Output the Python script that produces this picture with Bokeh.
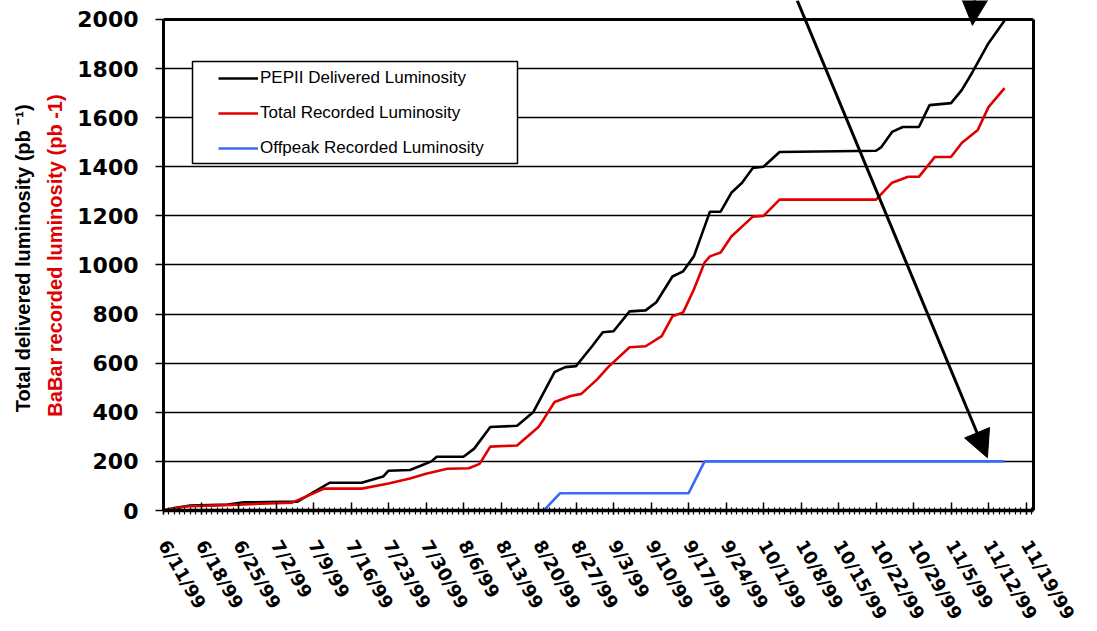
import numpy as np
from bokeh.plotting import figure
from bokeh.models import (FixedTicker, Range1d, Legend, LegendItem, Arrow,
                          NormalHead, BoxAnnotation, Title, Span, LinearAxis)
from bokeh.embed import file_html
from bokeh.resources import INLINE

# Days counted from 6/11/99
week_days = list(range(0, 162, 7))
week_labels = ["6/11/99", "6/18/99", "6/25/99", "7/2/99", "7/9/99", "7/16/99",
               "7/23/99", "7/30/99", "8/6/99", "8/13/99", "8/20/99", "8/27/99",
               "9/3/99", "9/10/99", "9/17/99", "9/24/99", "10/1/99", "10/8/99",
               "10/15/99", "10/22/99", "10/29/99", "11/5/99", "11/12/99", "11/19/99"]

# PEP-II delivered luminosity (pb^-1)
delivered_days = [0, 2, 5, 12, 15, 25, 31, 37, 41, 42,
                  46, 48, 50, 51, 56, 58, 61, 66, 69, 73,
                  75, 77, 80, 82, 84, 87, 90, 92, 95, 97,
                  99, 101, 102, 104, 106, 108, 110, 112, 115, 133,
                  134, 136, 138, 141, 143, 147, 149, 151, 154, 157]
delivered_lumi = [0, 10, 20, 24, 33, 36, 113, 113, 138, 162,
                  165, 182, 200, 219, 219, 252, 340, 345, 400, 564,
                  584, 588, 669, 726, 730, 811, 815, 848, 953, 974,
                  1035, 1156, 1217, 1217, 1294, 1335, 1395, 1400, 1460, 1465,
                  1480, 1542, 1562, 1562, 1651, 1659, 1712, 1785, 1903, 1996]

# BaBar total recorded luminosity (pb^-1)
recorded_days = [0, 4, 14, 24, 30, 37, 42, 46, 49, 53,
                 57, 59, 61, 66, 70, 71, 73, 76, 78, 81,
                 83, 87, 90, 93, 95, 97, 99, 101, 102, 104,
                 106, 110, 112, 115, 133, 136, 139, 141, 144, 147,
                 149, 152, 154, 157]
recorded_lumi = [0, 16, 24, 32, 89, 89, 110, 130, 150, 170,
                 172, 190, 260, 265, 340, 373, 442, 466, 475, 535,
                 584, 665, 669, 710, 791, 807, 900, 1010, 1035, 1051,
                 1116, 1197, 1200, 1266, 1266, 1335, 1359, 1359, 1440, 1440,
                 1497, 1550, 1643, 1720]

# Off-peak recorded luminosity (pb^-1)
offpeak_days = [0, 71, 74, 98, 101, 157]
offpeak_lumi = [0, 0, 70, 70, 200, 200]

y_ticks = list(range(0, 2001, 200))
y_top = 2000
# a little head-room above the top gridline for the arrows
y_view_top = y_top * 512 / 493

p = figure(width=1097, height=631, output_backend="svg", toolbar_location=None,
           x_range=Range1d(0, 162.4), y_range=Range1d(0, y_view_top),
           min_border_left=163, min_border_right=64, min_border_top=0,
           min_border_bottom=119)
p.background_fill_color = "white"
p.border_fill_color = "white"
p.outline_line_color = None

# y axis
p.yaxis.ticker = FixedTicker(ticks=y_ticks)
p.yaxis.bounds = (0, y_top)
p.yaxis.axis_line_width = 3
p.yaxis.major_tick_in = 0
p.yaxis.major_tick_out = 8
p.yaxis.major_tick_line_width = 1.5
p.yaxis.minor_tick_line_color = None
p.yaxis.major_label_text_font = "DejaVu Sans"
p.yaxis.major_label_text_font_style = "bold"
p.yaxis.major_label_text_font_size = "22px"
p.yaxis.major_label_text_color = "black"
p.yaxis.major_label_standoff = 17

# right border of the chart box
right_axis = LinearAxis(bounds=(0, y_top), ticker=FixedTicker(ticks=[]),
                        axis_line_width=3, major_tick_line_color=None,
                        minor_tick_line_color=None,
                        major_label_text_font_size="0px")
p.add_layout(right_axis, "right")

# top border of the chart box
p.add_layout(Span(location=y_top, dimension="width", line_color="black", line_width=3))

# x axis
p.xaxis.ticker = FixedTicker(ticks=week_days, minor_ticks=list(range(0, 163)))
p.xaxis.major_label_overrides = {d: lab for d, lab in zip(week_days, week_labels)}
p.xaxis.major_label_orientation = -np.pi / 3
p.xaxis.axis_line_width = 3.5
p.xaxis.major_tick_in = 8
p.xaxis.major_tick_out = 4
p.xaxis.major_tick_line_width = 1.5
p.xaxis.minor_tick_in = 3
p.xaxis.minor_tick_out = 4
p.xaxis.minor_tick_line_width = 1.2
p.xaxis.minor_tick_line_color = "black"
p.xaxis.major_label_text_font = "DejaVu Sans"
p.xaxis.major_label_text_font_style = "bold"
p.xaxis.major_label_text_font_size = "18px"
p.xaxis.major_label_text_color = "black"
p.xaxis.major_label_standoff = 27

p.xgrid.grid_line_color = None
p.ygrid.ticker = FixedTicker(ticks=y_ticks)
p.ygrid.grid_line_color = "black"
p.ygrid.grid_line_width = 1.5

# two-line y axis title (the first one added sits next to the axis)
p.add_layout(Title(text="BaBar recorded luminosity (pb -1)", text_color="#e00000",
                   text_font="Liberation Sans", text_font_style="bold",
                   text_font_size="20px", align="center", standoff=17), "left")
p.add_layout(Title(text="Total delivered  luminosity (pb \u207b\u00b9)", text_color="black",
                   text_font="Liberation Sans", text_font_style="bold",
                   text_font_size="20px", align="center", standoff=0), "left")

r_del = p.line(delivered_days, delivered_lumi, line_color="black", line_width=2.6)
r_rec = p.line(recorded_days, recorded_lumi, line_color="#e00000", line_width=2.6)
r_off = p.line(offpeak_days, offpeak_lumi, line_color="#3b6cf2", line_width=2.6)

# legend frame
box = BoxAnnotation(left=29, right=354, top=449, bottom=347,
                    left_units="screen", right_units="screen",
                    top_units="screen", bottom_units="screen",
                    fill_color="white", fill_alpha=1.0,
                    line_color="black", line_width=1.5, line_alpha=1.0)
p.add_layout(box)

legend = Legend(items=[LegendItem(label="PEPII Delivered Luminosity", renderers=[r_del]),
                       LegendItem(label="Total Recorded Luminosity", renderers=[r_rec]),
                       LegendItem(label="Offpeak Recorded Luminosity", renderers=[r_off])],
                location=(55, 352), padding=0, margin=0, spacing=15,
                glyph_width=40, glyph_height=20, label_height=20, label_standoff=2,
                label_text_font="Liberation Sans", label_text_font_size="17px",
                label_text_color="black",
                border_line_color=None, background_fill_alpha=0)
p.add_layout(legend)

# arrows
p.add_layout(Arrow(end=NormalHead(size=27, fill_color="black", line_color="black"),
                   x_start=118.3, y_start=y_view_top, x_end=153.8, y_end=215,
                   line_color="black", line_width=3))
p.add_layout(Arrow(end=NormalHead(size=27, fill_color="black", line_color="black"),
                   x_start=151.6, y_start=y_view_top + 60, x_end=151.0, y_end=1976,
                   line_color="black", line_width=3))

open("out.html", "w").write(file_html(p, INLINE))
